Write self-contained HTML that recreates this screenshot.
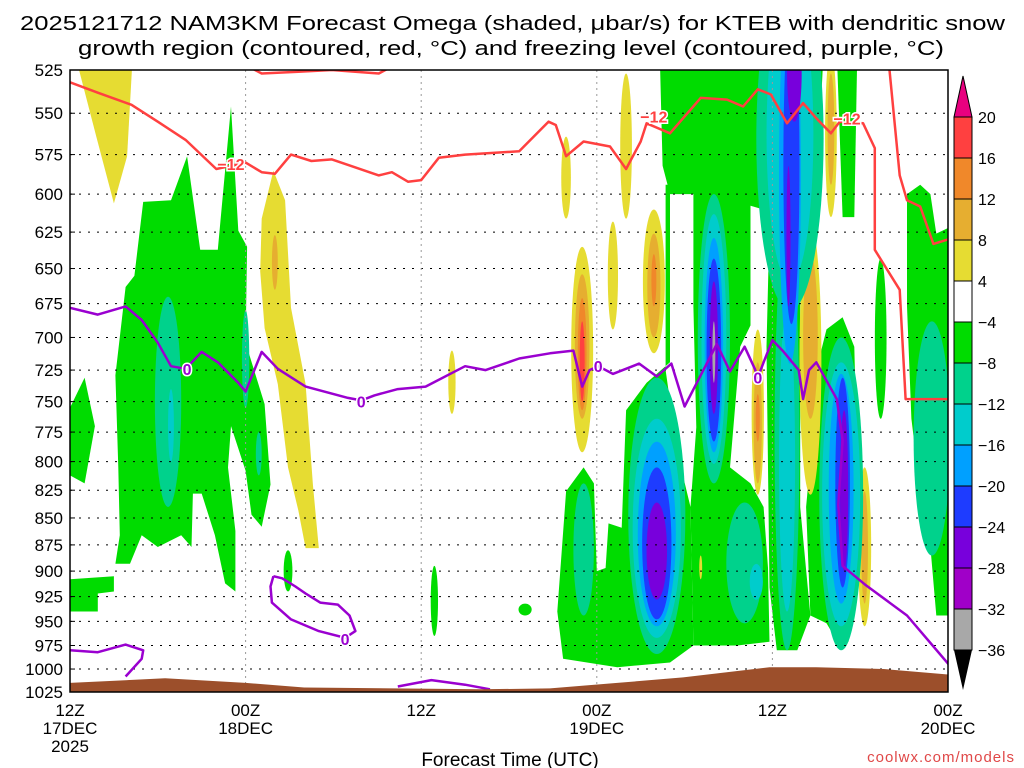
<!DOCTYPE html>
<html><head><meta charset="utf-8"><style>
html,body{margin:0;padding:0;background:#fff;}
svg{display:block;font-family:"Liberation Sans",sans-serif;}
</style></head><body>
<svg id="chart" width="1024" height="768" viewBox="0 0 1024 768" xmlns="http://www.w3.org/2000/svg">
<defs><clipPath id="plotclip"><rect x="70" y="70" width="878" height="622"/></clipPath></defs>
<text x="20" y="30" font-size="20" textLength="985" lengthAdjust="spacingAndGlyphs">2025121712 NAM3KM Forecast Omega (shaded, μbar/s) for KTEB with dendritic snow</text>
<text x="78" y="55" font-size="20" textLength="866" lengthAdjust="spacingAndGlyphs">growth region (contoured, red, °C) and freezing level (contoured, purple, °C)</text>
<g id="shade" clip-path="url(#plotclip)"></g>
<g id="grid"></g>
<g id="lines" clip-path="url(#plotclip)"></g>
<g id="ground" clip-path="url(#plotclip)"></g>
<g id="labels"></g>
<rect x="70" y="70" width="878" height="622" fill="none" stroke="#000" stroke-width="1.5"/>
<g id="axes"></g>
<g id="cbar"></g>
<text x="510" y="766" font-size="19" text-anchor="middle">Forecast Time (UTC)</text>
<text x="1015" y="762" font-size="15" text-anchor="end" fill="#e04848" letter-spacing="1">coolwx.com/models</text>
</svg>
<script>
// ---- data ----
const pressureTicks = [525,550,575,600,625,650,675,700,725,750,775,800,825,850,875,900,925,950,975,1000,1025];
const timeTickHours = [0,12,24,36,48,60];
const timeTickLabels = [["12Z","17DEC","2025"],["00Z","18DEC"],["12Z"],["00Z","19DEC"],["12Z"],["00Z","20DEC"]];
const colorbarValues = [20,16,12,8,4,-4,-8,-12,-16,-20,-24,-28,-32,-36];
// green (-4..-8) polygons: [hour, hPa]
const greenPolys = [
 [[5.0,605],[6.9,604],[8.0,576],[8.9,637],[10.1,637],[11.0,546],[11.5,624],[12.1,635],[12.0,704],[13.3,752],[13.7,820],[13.1,858],[12.4,847],[12.0,808],[11.0,770],[10.8,805],[11.3,862],[11.3,920],[10.6,912],[9.9,866],[9.0,828],[8.4,828],[8.3,877],[7.6,866],[6.0,877],[4.9,866],[4.1,893],[3.1,893],[3.4,866],[3.3,805],[3.1,729],[3.8,663],[4.4,655]],
 [[0,755],[1.0,731],[1.7,770],[1.0,819],[0,812]],
 [[0,908],[3.0,905],[3.0,920],[1.9,922],[1.9,940],[0,940]],
 [[40.3,515],[51.5,515],[51.0,600],[47.4,610],[45.6,605],[43.3,600],[41.0,600],[40.5,582]],
 [[52.4,515],[53.8,515],[53.6,615],[52.8,615]],
 [[40.7,594],[41.0,594],[41.0,719],[39.4,735],[38.0,757],[37.7,859],[36.8,855],[36.6,897],[36.0,900],[35.8,819],[35.1,805],[33.9,826],[33.3,940],[33.7,989],[37.4,998],[41.0,993],[42.6,975],[42.4,840],[41.5,792],[40.7,725]],
 [[42.6,590],[46.5,580],[46.5,691],[45.8,707],[45.1,805],[46.5,819],[47.4,840],[47.7,897],[47.8,971],[45.6,975],[42.6,975],[42.4,840],[42.8,771],[42.6,677]],
 [[47.4,578],[51.0,578],[50.8,626],[49.9,635],[49.9,840],[50.6,944],[49.7,980],[48.3,980],[47.8,916],[47.6,707],[47.8,620]],
 [[51.7,694],[52.8,685],[53.6,707],[53.8,805],[53.5,928],[53.2,971],[52.6,975],[51.7,952],[50.6,944],[50.3,840],[50.8,771],[51.0,725]],
 [[57.2,600],[58.1,594],[58.8,600],[59.2,626],[60.5,620],[60.5,944],[59.2,944],[58.8,877],[57.9,805],[57.5,764],[57.2,677]]
];
// yellow (4..8) polygons
const yellowPolys = [
 [[0.3,515],[4.3,515],[3.9,576],[3.0,606],[1.8,564]],
 [[13.9,585],[14.7,604],[15.1,678],[16.1,736],[16.6,820],[17.0,878],[16.1,878],[15.6,843],[14.9,805],[14.2,736],[13.3,693],[13.0,652],[13.1,616]]
];
// cells: centre hour, half-width hours, top hPa, bottom hPa, omega value
const cellHour = [6.7,12.0,12.9,6.9,14.0,26.1,14.9,24.9,31.1,55.4, 33.9,38.0,37.1, 39.9,39.9,39.9, 35.0,35.0,35.0,35.0, 47.0,47.0,47.0, 50.6,50.6, 52.0,52.0, 54.3,54.3, 43.1, 44.0,44.0,44.0,44.0,44.0,44.0, 40.1,40.1,40.1,40.1,40.1, 35.1, 46.1,46.9, 49.2,49.0,49.2,49.0,49.2,49.3,49.5,49.1, 52.7,52.7,52.7,52.8,52.9, 58.9];
const cellHalfW = [0.9,0.25,0.2,0.2,0.2,0.25,0.3,0.25,0.45,0.4, 0.33,0.4,0.35, 0.75,0.45,0.17, 0.75,0.5,0.3,0.17, 0.42,0.28,0.14, 0.75,0.5, 0.4,0.23, 0.45,0.23, 0.1, 1.1,0.85,0.63,0.5,0.28,0.1, 1.95,1.65,1.3,1.0,0.7, 0.7, 1.25,0.45, 2.3,0.85,1.6,0.55,0.75,0.55,0.5,0.14, 1.5,1.3,0.85,0.5,0.28, 1.25];
const cellTop = [670,680,775,740,627,710,880,895,932,643, 564,527,618, 610,626,640, 635,654,671,688, 694,719,744, 620,640, 515,527, 805,826, 885, 600,613,629,643,659,688, 731,764,783,805,836, 819, 836,893, 470,620,480,680,480,490,500,582, 700,719,728,731,757, 688];
const cellBottom = [840,755,812,800,665,760,920,965,944,764, 616,616,694, 712,700,677, 792,764,757,750, 829,819,783, 829,764, 615,594, 955,932, 908, 819,802,792,783,760,735, 984,967,955,948,928, 944, 952,928, 680,980,660,940,720,690,555,677, 980,955,932,916,900, 885];
const cellValue = [-10,-10,-10,-14,10,6,-6,-6,-6,-6, 6,6,6, 6,10,14, 6,10,14,18, 6,10,14, 6,10, 6,10, 6,10, 6, -10,-14,-18,-22,-26,-34, -10,-14,-18,-22,-26, -10, -10,-14, -10,-10,-14,-14,-18,-22,-26,-26, -10,-14,-18,-22,-26, -10];
// contours
const redContour1 = [[0,532],[1.9,538],[4.2,545],[6.0,555],[7.9,566],[10.0,584],[12.0,580],[13.1,586],[14.0,587],[15.1,575],[16.5,579],[17.9,578],[19.5,583],[21.1,588],[22.0,586],[23.1,592],[24.0,591],[25.2,577],[27.0,575],[30.7,573],[32.7,555],[33.2,557],[33.9,576],[35.1,567],[36.9,570],[38.0,584],[39.0,567],[39.4,556],[41.0,562],[43.1,541],[44.9,542],[46.0,546],[47.0,536],[47.9,539],[49.0,556],[50.1,544],[51.0,553],[52.0,562],[52.6,555],[54.2,556],[55.0,571],[55.0,637],[56.7,665],[57.1,748],[60.1,748]];
const redContour2 = [[55.6,522],[56.0,525],[56.7,588],[57.2,604],[58.1,608],[59.0,633],[60.0,630]];
const redContour3 = [[12.4,524],[13.1,527],[15.6,526],[17.9,525],[21.1,527],[22.0,523]];
const redLabels = [[11.0,581],[39.9,552],[53.1,553]];
const purpleContour1 = [[0,678],[1.9,683],[3.8,677],[4.9,687],[6.0,704],[6.9,722],[7.9,724],[9.0,711],[10.1,719],[11.5,735],[12.0,742],[13.1,711],[14.2,724],[16.1,738],[19.0,747],[19.9,749],[20.8,745],[22.4,740],[24.3,738],[27.0,722],[28.4,725],[30.7,716],[32.8,712],[34.4,710],[35.0,738],[35.5,725],[36.1,722],[37.1,728],[38.9,720],[40.1,730],[41.1,720],[42.0,754],[44.2,705],[45.1,726],[46.1,707],[46.8,724],[47.0,731],[47.4,719],[48.0,702],[48.7,710],[49.8,725],[50.1,748],[50.5,725],[51.0,719],[52.4,748],[52.8,782],[52.5,838],[52.8,895],[54.4,914],[57.2,944],[60.1,996]];
const purpleContour2 = [[0,980],[1.9,982],[3.8,974],[5.0,980],[4.9,989],[3.8,1008]];
const purpleLoop = [[13.9,905],[13.7,915],[13.8,931],[15.1,948],[17.0,960],[18.8,967],[19.5,960],[19.1,944],[18.3,933],[17.1,931],[16.1,922],[15.4,915],[14.5,907],[13.9,905]];
const purpleContour3 = [[22.4,1019],[24.7,1012],[27.0,1017],[28.7,1022]];
const purpleLabels = [[8.0,724],[19.9,750],[36.1,722],[47.0,731],[18.8,968]];
const terrainHours = [0,6.5,12,16,28,32.8,37.4,41.9,47.8,51.0,55.6,60.1];
const terrainHpa = [1015,1010,1015,1020,1022,1021,1015,1009,998,998,1000,1006];

// ---- axes ----
const NS="http://www.w3.org/2000/svg";
const X0=70,X1=948,Y0=70,Y1=692;
function X(h){return X0+h*(X1-X0)/60;}
function Y(p){return Y0+(Math.log(p)-Math.log(525))*(Y1-Y0)/Math.log(1025/525);}
function el(tag,attrs,parent){const e=document.createElementNS(NS,tag);for(const k in attrs)e.setAttribute(k,attrs[k]);parent.appendChild(e);return e;}
function color(v){
 if(v>=16)return"#ff4040"; if(v>=12)return"#f0882a"; if(v>=8)return"#e6ae30"; if(v>=4)return"#e6dc32";
 if(v>-4)return"#ffffff"; if(v>-8)return"#00dc00"; if(v>-12)return"#00d28c"; if(v>-16)return"#00cccc";
 if(v>-20)return"#00a0ff"; if(v>-24)return"#1e3cff"; if(v>-28)return"#7800dc"; if(v>-32)return"#a000c8"; return"#a8a8a8";}
const ptsStr=a=>a.map(q=>X(q[0]).toFixed(1)+","+Y(q[1]).toFixed(1)).join(" ");

const shade=document.getElementById("shade");
greenPolys.forEach(poly=>{const e=el("polygon",{points:ptsStr(poly),fill:color(-6)},shade);
 
 });
yellowPolys.forEach(poly=>{const e=el("polygon",{points:ptsStr(poly),fill:color(6)},shade);
 
 });
const order=cellValue.map((v,i)=>i).sort((a,b)=>Math.abs(cellValue[a])-Math.abs(cellValue[b]));
order.forEach(i=>{
 const yt=Y(cellTop[i]),yb=Y(cellBottom[i]);
 const cx=X(cellHour[i]),rx=X(cellHour[i]+cellHalfW[i])-cx;
 const e=el("ellipse",{cx:cx,cy:(yt+yb)/2,rx:rx,ry:(yb-yt)/2,fill:color(cellValue[i])},shade);
 
 });

// grid
const grid=document.getElementById("grid");
pressureTicks.forEach(p=>{if(p===525||p===1025)return;
 const e=el("line",{x1:X0,x2:X1,y1:Y(p),y2:Y(p),stroke:"#000","stroke-width":1,"stroke-dasharray":"2,7"},grid);
 
 });
timeTickHours.forEach(h=>{if(h===0||h===60)return;
 const e=el("line",{x1:X(h),x2:X(h),y1:Y0,y2:Y1,stroke:"#999","stroke-width":1,"stroke-dasharray":"2,4"},grid);
 
 });

// contours
const lines=document.getElementById("lines");
[[redContour1,"#ff4040"],[redContour2,"#ff4040"],[redContour3,"#ff4040"],[purpleContour1,"#9a00d0"],[purpleContour2,"#9a00d0"],[purpleLoop,"#9a00d0"],[purpleContour3,"#9a00d0"]].forEach(c=>{
 const e=el("polyline",{points:ptsStr(c[0]),fill:"none",stroke:c[1],"stroke-width":2.5,"stroke-linejoin":"round"},lines);
 
 });

// terrain
const ground=document.getElementById("ground");
const tp=terrainHours.map((h,i)=>[h,terrainHpa[i]]);
const g=el("polygon",{points:ptsStr(tp)+" "+X(60.1)+","+(Y1+5)+" "+X(0)+","+(Y1+5),fill:"#9c4f2b"},ground);



// labels
const labels=document.getElementById("labels");
redLabels.forEach(q=>{const t=el("text",{x:X(q[0]),y:Y(q[1])+6,"font-size":16,"font-weight":"bold","text-anchor":"middle",fill:"#ff4040",stroke:"#fff","stroke-width":3,"paint-order":"stroke"},labels);t.textContent="−12";
 
 });
purpleLabels.forEach(q=>{const t=el("text",{x:X(q[0]),y:Y(q[1])+6,"font-size":16,"font-weight":"bold","text-anchor":"middle",fill:"#9a00d0",stroke:"#fff","stroke-width":3,"paint-order":"stroke"},labels);t.textContent="0";
 
 });

// axes labels
const axes=document.getElementById("axes");
pressureTicks.forEach(p=>{
 const t=el("text",{x:63,y:Y(p)+6,"font-size":17,"text-anchor":"end"},axes);t.textContent=p;
 
 
 const k=el("line",{x1:X0,x2:X0+5,y1:Y(p),y2:Y(p),stroke:"#000"},axes);
 
 });
timeTickHours.forEach((h,i)=>{
 timeTickLabels[i].forEach((s,j)=>{
  const t=el("text",{x:X(h),y:716+j*18,"font-size":17,"text-anchor":"middle"},axes);t.textContent=s;
  
  });});

// colorbar
const cb=document.getElementById("cbar");
const cbX=954,cbW=18,cbTop=117,cbStep=41;
const tri=el("polygon",{points:`${cbX},${cbTop} ${cbX+cbW},${cbTop} ${cbX+cbW/2},76`,fill:"#e8007f",stroke:"#000"},cb);


for(let i=0;i<colorbarValues.length-1;i++){
 const mid=(colorbarValues[i]+colorbarValues[i+1])/2;
 const r=el("rect",{x:cbX,y:cbTop+i*cbStep,width:cbW,height:cbStep,fill:color(mid),stroke:"#000"},cb);
 
 }
const yb=cbTop+(colorbarValues.length-1)*cbStep;
const tri2=el("polygon",{points:`${cbX},${yb} ${cbX+cbW},${yb} ${cbX+cbW/2},${yb+40}`,fill:"#000"},cb);


colorbarValues.forEach((v,i)=>{
 const t=el("text",{x:978,y:cbTop+i*cbStep+6,"font-size":16},cb);t.textContent=v<0?"−"+(-v):String(v);
 
 });
</script>
</body></html>
